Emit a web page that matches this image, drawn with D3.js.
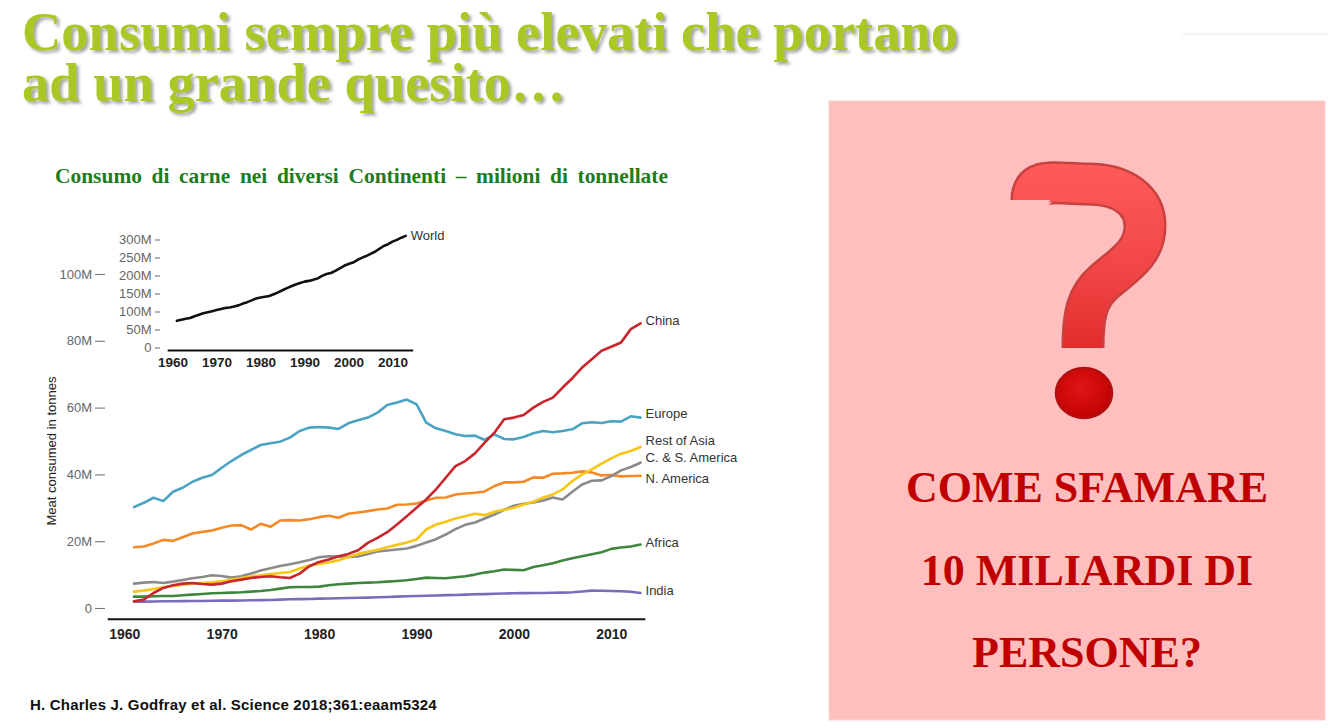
<!DOCTYPE html>
<html>
<head>
<meta charset="utf-8">
<script src="https://cdn.jsdelivr.net/npm/d3@7/dist/d3.min.js"></script>
<style>
  html, body { margin: 0; padding: 0; background: #ffffff; }
  svg { display: block; }
</style>
</head>
<body>
<svg id="chart" width="1342" height="728"></svg>
<script>
// ---------------- DATA ----------------
const years = d3.range(1961, 2014); // 1961 .. 2013

const europe = [30.2,31.5,33.0,32.0,34.8,36.0,37.8,39.0,39.8,42.0,44.0,45.8,47.3,48.8,49.3,49.8,51.0,53.0,54.0,54.2,54.0,53.6,55.3,56.2,57.0,58.5,60.8,61.5,62.4,61.0,55.5,53.8,53.0,52.0,51.5,51.6,50.3,52.0,50.6,50.5,51.2,52.3,53.0,52.6,53.0,53.5,55.3,55.6,55.4,55.9,55.8,57.4,57.0];
const china = [2.0,2.5,4.5,6.0,6.8,7.3,7.5,7.2,7.0,7.3,8.0,8.5,9.0,9.3,9.5,9.2,9.0,10.3,12.5,13.8,14.5,15.5,16.2,17.3,19.5,21.0,22.7,25.0,27.5,30.0,32.5,35.5,39.0,42.5,44.0,46.3,49.5,52.5,56.5,57.0,57.8,60.0,61.7,63.0,66.0,68.8,72.0,74.5,77.0,78.2,79.5,83.5,85.2];
const restOfAsia = [4.9,5.2,5.7,6.2,6.6,7.0,7.3,7.5,7.7,8.0,8.5,9.0,9.4,9.8,10.2,10.5,10.8,11.8,12.7,13.2,13.6,14.3,15.3,16.2,16.8,17.4,18.2,18.9,19.6,20.5,23.5,25.0,25.8,26.8,27.5,28.2,27.8,28.8,29.4,30.0,31.0,31.8,33.1,34.0,35.5,38.0,40.0,41.5,43.2,44.8,46.2,47.0,48.2];
const csAmerica = [7.3,7.6,7.8,7.5,7.9,8.4,8.9,9.3,9.8,9.6,9.1,9.5,10.3,11.2,11.9,12.6,13.1,13.7,14.4,15.2,15.5,15.4,15.3,15.4,16.2,16.9,17.2,17.5,17.8,18.6,19.6,20.6,22.0,23.6,24.9,25.6,26.8,28.0,29.4,30.6,31.2,31.6,32.2,33.1,32.5,34.8,37.0,38.1,38.2,39.5,41.2,42.2,43.5];
const nAmerica = [18.2,18.4,19.3,20.4,20.1,21.2,22.3,22.8,23.2,24.0,24.7,24.8,23.5,25.2,24.3,26.2,26.3,26.2,26.6,27.2,27.6,27.0,28.2,28.6,29.0,29.5,29.8,30.9,31.0,31.3,32.2,33.0,33.1,34.0,34.3,34.5,34.9,36.5,37.6,37.6,37.8,39.1,39.0,40.2,40.3,40.5,40.9,40.6,39.7,39.8,39.4,39.5,39.6];
const africa = [3.4,3.4,3.5,3.6,3.6,3.8,4.0,4.2,4.4,4.5,4.6,4.7,4.9,5.1,5.4,5.8,6.2,6.3,6.3,6.4,6.8,7.1,7.3,7.5,7.6,7.7,7.9,8.1,8.3,8.7,9.1,9.0,8.9,9.2,9.5,10.0,10.6,11.0,11.5,11.4,11.3,12.3,12.8,13.4,14.2,14.9,15.5,16.1,16.7,17.7,18.1,18.4,19.0];
const india = [1.9,1.9,1.95,2.0,2.0,2.05,2.1,2.1,2.15,2.2,2.2,2.25,2.3,2.35,2.4,2.5,2.6,2.65,2.7,2.8,2.85,2.9,3.0,3.05,3.1,3.2,3.3,3.4,3.5,3.6,3.65,3.75,3.85,3.9,4.0,4.1,4.15,4.25,4.35,4.4,4.45,4.5,4.5,4.55,4.6,4.7,4.95,5.2,5.15,5.1,5.0,4.85,4.5];
const world = [74,77,80,82,87,91,95,98,101,104,107,110,111,114,117,122,126,131,136,139,141,143,148,153,159,165,170,175,179,183,185,188,192,199,204,207,213,220,227,232,236,243,249,254,260,266,274,282,287,294,299,305,310];

const seriesNames = ["China","Europe","Rest of Asia","C. & S. America","N. America","Africa","India"];
const seriesValues = [china, europe, restOfAsia, csAmerica, nAmerica, africa, india];

const mainYTicks = [0, 20, 40, 60, 80, 100];
const mainXTicks = [1960, 1970, 1980, 1990, 2000, 2010];
const insetYTicks = [0, 50, 100, 150, 200, 250, 300];
const insetXTicks = [1960, 1970, 1980, 1990, 2000, 2010];

// ---------------- STYLE ----------------
const seriesColors = {
  "China": "#c9252c",
  "Europe": "#4ba3c3",
  "Rest of Asia": "#f7c515",
  "C. & S. America": "#8a8a8a",
  "N. America": "#f48a26",
  "Africa": "#3d873d",
  "India": "#7b6bbb"
};
const labelDy = {
  "China": -3, "Europe": -4, "Rest of Asia": -7, "C. & S. America": -5,
  "N. America": 3, "Africa": -2, "India": -3
};

const svg = d3.select("#chart");
const sans = "'Liberation Sans', Arial, sans-serif";
const serif = "'Liberation Serif', 'Times New Roman', serif";

// defs
const defs = svg.append("defs");
const shadow = defs.append("filter").attr("id", "shadow")
  .attr("x", "-5%").attr("y", "-20%").attr("width", "110%").attr("height", "150%");
shadow.append("feDropShadow").attr("dx", 2.5).attr("dy", 2.5).attr("stdDeviation", 1.6)
  .attr("flood-color", "#555").attr("flood-opacity", 0.55);
const grad = defs.append("linearGradient").attr("id", "qgrad")
  .attr("gradientUnits", "userSpaceOnUse")
  .attr("x1", 0).attr("y1", 165).attr("x2", 0).attr("y2", 360);
grad.append("stop").attr("offset", "0%").attr("stop-color", "#ff5a5a");
grad.append("stop").attr("offset", "55%").attr("stop-color", "#f04545");
grad.append("stop").attr("offset", "100%").attr("stop-color", "#e02828");
const dgrad = defs.append("radialGradient").attr("id", "dgrad")
  .attr("cx", "45%").attr("cy", "40%").attr("r", "65%");
dgrad.append("stop").attr("offset", "0%").attr("stop-color", "#e01515");
dgrad.append("stop").attr("offset", "100%").attr("stop-color", "#c00000");

// ---------------- TITLE ----------------
const title = svg.append("g").attr("filter", "url(#shadow)")
  .attr("font-family", serif).attr("font-weight", "bold").attr("font-size", 54.5)
  .attr("fill", "#a9c826");
title.append("text").attr("x", 22).attr("y", 50).text("Consumi sempre più elevati che portano");
title.append("text").attr("x", 22).attr("y", 101).text("ad un grande quesito…");

// faint line top-right
svg.append("line").attr("x1", 1182).attr("x2", 1328).attr("y1", 34).attr("y2", 34)
  .attr("stroke", "#f0f0f0").attr("stroke-width", 1.5);

// subtitle (size and word spacing fitted to the reference width)
const sub = svg.append("text").attr("x", 55).attr("y", 183)
  .attr("font-family", serif).attr("font-weight", "bold").attr("font-size", 18.5)
  .attr("fill", "#1d7d1d")
  .text("Consumo di carne nei diversi Continenti – milioni di tonnellate");
{
  const w0 = sub.node().getComputedTextLength();
  const fs = Math.max(18.5, Math.min(22.5, 18.5 * 575 / w0));
  sub.attr("font-size", fs);
  const w = sub.node().getComputedTextLength();
  const nSpaces = sub.text().split(" ").length - 1;
  sub.attr("word-spacing", Math.max(0, (613 - w) / nSpaces));
}

// ---------------- MAIN CHART ----------------
const x = d3.scaleLinear().domain([1960, 2010]).range([124.3, 611.3]);
const y = d3.scaleLinear().domain([0, 100]).range([608, 274]);

// y axis
const yAxis = svg.append("g").attr("transform", `translate(${105},0)`)
  .call(d3.axisLeft(y).tickValues(mainYTicks).tickSize(10).tickPadding(3)
    .tickFormat(d => d === 0 ? "0" : d + "M"));
yAxis.select(".domain").remove();
yAxis.selectAll(".tick line").attr("stroke", "#777").attr("stroke-width", 1.1);
yAxis.selectAll(".tick text").attr("font-family", sans).attr("font-size", 13).attr("fill", "#666");

// y axis label
svg.append("text")
  .attr("transform", `translate(56,${y(47)}) rotate(-90)`)
  .attr("text-anchor", "middle")
  .attr("font-family", sans).attr("font-size", 13).attr("fill", "#222")
  .text("Meat consumed in tonnes");

// x axis baseline + labels
const baseY = 619.3;
svg.append("line").attr("x1", x(1958.3)).attr("x2", x(2013.5))
  .attr("y1", baseY).attr("y2", baseY).attr("stroke", "#111").attr("stroke-width", 2);
const xAxis = svg.append("g").attr("transform", `translate(0,${baseY})`)
  .call(d3.axisBottom(x).tickValues(mainXTicks).tickSize(0).tickPadding(10).tickFormat(d3.format("d")));
xAxis.select(".domain").remove();
xAxis.selectAll(".tick text").attr("font-family", sans).attr("font-weight", "bold")
  .attr("font-size", 14).attr("fill", "#222");

// lines
const line = d3.line().x((d, i) => x(years[i])).y(d => y(d));
const order = ["India","Africa","N. America","C. & S. America","Rest of Asia","Europe","China"];
order.forEach(name => {
  const vals = seriesValues[seriesNames.indexOf(name)];
  svg.append("path").datum(vals)
    .attr("d", line)
    .attr("fill", "none")
    .attr("stroke", seriesColors[name])
    .attr("stroke-width", 2.6)
    .attr("stroke-linejoin", "round")
    .attr("stroke-linecap", "round");
});
// series labels
seriesNames.forEach((name, k) => {
  const vals = seriesValues[k];
  svg.append("text")
    .attr("x", x(years[years.length - 1]) + 5)
    .attr("y", y(vals[vals.length - 1]) + labelDy[name])
    .attr("dy", "0.35em")
    .attr("font-family", sans).attr("font-size", 13).attr("fill", "#333")
    .text(name);
});

// ---------------- INSET (WORLD) ----------------
const xi = d3.scaleLinear().domain([1960, 2010]).range([172.5, 392.5]);
const yi = d3.scaleLinear().domain([0, 300]).range([347.5, 239.5]);

const yiAxis = svg.append("g").attr("transform", `translate(${160},0)`)
  .call(d3.axisLeft(yi).tickValues(insetYTicks).tickSize(5).tickPadding(3.5)
    .tickFormat(d => d === 0 ? "0" : d + "M"));
yiAxis.select(".domain").remove();
yiAxis.selectAll(".tick line").attr("stroke", "#777").attr("stroke-width", 1.1);
yiAxis.selectAll(".tick text").attr("font-family", sans).attr("font-size", 13).attr("fill", "#666");

const baseYi = 350.5;
svg.append("line").attr("x1", xi(1958.9)).attr("x2", xi(2014.7))
  .attr("y1", baseYi).attr("y2", baseYi).attr("stroke", "#111").attr("stroke-width", 2);
const xiAxis = svg.append("g").attr("transform", `translate(0,${baseYi})`)
  .call(d3.axisBottom(xi).tickValues(insetXTicks).tickSize(0).tickPadding(7).tickFormat(d3.format("d")));
xiAxis.select(".domain").remove();
xiAxis.selectAll(".tick text").attr("font-family", sans).attr("font-weight", "bold")
  .attr("font-size", 13.5).attr("fill", "#222");

const wline = d3.line().x((d, i) => xi(years[i])).y(d => yi(d));
svg.append("path").datum(world).attr("d", wline)
  .attr("fill", "none").attr("stroke", "#111").attr("stroke-width", 2.6)
  .attr("stroke-linejoin", "round").attr("stroke-linecap", "round");
svg.append("text")
  .attr("x", xi(2013) + 5).attr("y", yi(world[world.length - 1]))
  .attr("dy", "0.35em")
  .attr("font-family", sans).attr("font-size", 13).attr("fill", "#333")
  .text("World");

// ---------------- FOOTER ----------------
svg.append("text").attr("x", 30).attr("y", 710)
  .attr("font-family", sans).attr("font-weight", "bold").attr("font-size", 15)
  .attr("letter-spacing", 0.2).attr("fill", "#111")
  .text("H. Charles J. Godfray et al. Science 2018;361:eaam5324");

// ---------------- RIGHT BOX ----------------
svg.append("rect").attr("x", 829).attr("y", 101).attr("width", 496).attr("height", 619)
  .attr("fill", "#ffbfbe").attr("stroke", "#ffd2d2").attr("stroke-width", 1);

// question-mark icon (graphic)
const hook = "M1032,200 C1032,176 1056,184 1088,184 C1122,184 1145,200 1145,226 C1145,254 1122,266 1104,282 C1088,296 1083,312 1083,348";
svg.append("path").attr("d", hook).attr("fill", "none")
  .attr("stroke", "#c84040").attr("stroke-width", 43).attr("stroke-linecap", "butt");
svg.append("path").attr("d", hook).attr("fill", "none")
  .attr("stroke", "url(#qgrad)").attr("stroke-width", 38).attr("stroke-linecap", "butt");
svg.append("ellipse").attr("cx", 1084).attr("cy", 393).attr("rx", 28).attr("ry", 25)
  .attr("fill", "url(#dgrad)").attr("stroke", "#b01010").attr("stroke-width", 2.5);

const msg = svg.append("g").attr("font-family", serif).attr("font-weight", "bold")
  .attr("font-size", 44).attr("fill", "#c00000").attr("text-anchor", "middle");
msg.append("text").attr("x", 1087).attr("y", 502).text("COME SFAMARE");
msg.append("text").attr("x", 1087).attr("y", 585).text("10 MILIARDI DI");
msg.append("text").attr("x", 1087).attr("y", 667).text("PERSONE?");
</script>
</body>
</html>
